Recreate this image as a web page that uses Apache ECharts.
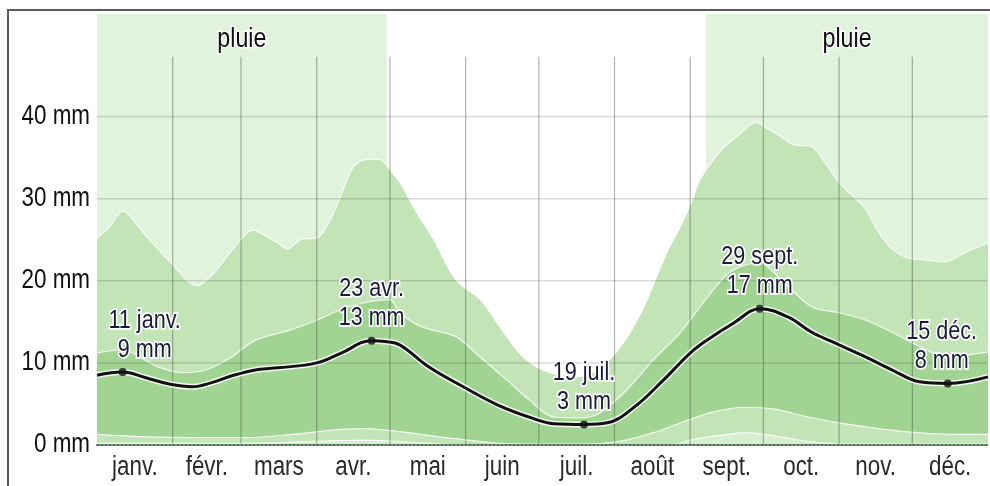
<!DOCTYPE html>
<html>
<head>
<meta charset="utf-8">
<script src="https://cdn.jsdelivr.net/npm/echarts@6/dist/echarts.min.js"></script>
<style>
  html, body { margin: 0; padding: 0; background: #fff; }
  #chart { width: 990px; height: 486px; }
</style>
</head>
<body>
<div id="chart"></div>
<script>
// Monthly rainfall: sliding 31-day accumulation, median with percentile bands.
const monthNames = ['janv.', 'févr.', 'mars', 'avr.', 'mai', 'juin', 'juil.', 'août', 'sept.', 'oct.', 'nov.', 'déc.'];
const monthLengths = [31, 28, 31, 30, 31, 30, 31, 31, 30, 31, 30, 31];
const yTicks = [0, 10, 20, 30, 40];

// Wet season spans (day of year)
const wetSeasons = [[0, 118.7], [249.5, 365]];
const wetLabel = 'pluie';

// 90th percentile
const p90Days = [0, 5, 10.5, 20, 30, 41, 48, 56, 64, 70, 74, 78, 84, 90, 97, 105, 111, 116, 120, 124, 131, 138, 147, 157, 165, 173, 180, 188, 196, 204, 211, 218, 224, 230, 234, 239, 244, 247, 256, 263, 270, 275, 280, 285, 293, 298, 304, 310, 315, 320, 326, 332, 337, 347, 356, 365];
const p90Values = [25.2, 26.5, 28.5, 25.5, 22.3, 19.4, 21, 24, 26.2, 25.3, 24.6, 23.9, 25.1, 25.2, 28.3, 33.9, 34.8, 34.8, 33.5, 32, 28.3, 25, 20.1, 17.7, 14.4, 11.2, 9.5, 8.6, 8.3, 9, 10.7, 13.5, 16.8, 21, 23.8, 26.6, 29.9, 32.3, 36, 37.8, 39.3, 38.5, 37.6, 36.6, 36.3, 34.5, 32, 30.2, 28.7, 26, 23.8, 22.8, 22.6, 22.3, 23.5, 24.6];

// 75th percentile
const p75Days = [0, 10.5, 20, 25, 35, 45, 55, 65, 79, 90, 100, 109, 120, 124, 133, 147, 157, 168, 177, 187, 198, 206, 217, 228, 239, 247, 259, 271, 283, 293, 304, 315, 326, 337, 348, 362, 365];
const p75Values = [11.2, 11.6, 10.3, 9.5, 8.8, 9.2, 10.7, 12.8, 14, 15.2, 16.5, 17.3, 17.7, 16.1, 14.4, 13.2, 10.7, 7.9, 5.5, 3.4, 3.3, 3.9, 6.7, 10.4, 13.7, 16.8, 21, 22.2, 19.3, 16.8, 16.1, 15.2, 13.7, 12, 10.7, 11.2, 11.3];

// Median
const medianDays = [0, 10.5, 20, 30, 39, 47, 56, 66, 74, 90, 100, 112.5, 118, 124, 136, 150, 164, 178, 187, 199.5, 209, 220, 232, 243, 250, 261, 271.5, 283, 293, 304, 315, 326, 337, 348.5, 365];
const medianValues = [8.5, 8.9, 8.2, 7.4, 7.1, 7.6, 8.5, 9.2, 9.4, 10, 11.2, 12.7, 12.6, 12.2, 9.5, 7.1, 4.9, 3.3, 2.6, 2.5, 2.7, 4.6, 7.9, 11.2, 12.8, 14.9, 16.6, 15.6, 13.7, 12.2, 10.7, 9.1, 7.7, 7.5, 8.3];

// 25th percentile
const p25Days = [0, 20, 40, 62, 80, 100, 110, 125, 140, 152, 165, 180, 200, 215, 228, 240, 252, 265, 277, 290, 304, 320, 336, 350, 365];
const p25Values = [1.3, 1.0, 0.9, 0.9, 1.3, 1.9, 2.0, 1.6, 1.0, 0.6, 0.2, 0.1, 0.1, 0.5, 1.5, 2.8, 4.0, 4.6, 4.4, 3.5, 2.7, 2.0, 1.5, 1.3, 1.3];

// 10th percentile
const p10Days = [0, 60, 95, 110, 130, 150, 236, 243, 256, 266, 280, 292, 305, 365];
const p10Values = [0.2, 0.2, 0.5, 0.6, 0.3, 0, 0, 0.6, 1.2, 1.5, 1.0, 0.4, 0.1, 0.1];

// Highlighted extremes of the median
const highlightDays = [10.5, 112.5, 199.5, 271.5, 348.5];
const highlightNames = ['11 janv.', '23 avr.', '19 juil.', '29 sept.', '15 déc.'];
const highlightValues = [8.9, 12.7, 2.5, 16.6, 7.5];

// ---- derived axis helpers ----
const monthStarts = [0];
monthLengths.forEach(l => monthStarts.push(monthStarts[monthStarts.length - 1] + l));
const monthMids = monthLengths.map((l, i) => monthStarts[i] + l / 2);

// ---- styling ----
const FONT = '"Liberation Sans", Arial, sans-serif';
const NARROW = 0.83;                // horizontal squeeze for the condensed lettering
const COLORS = {
  wet: '#e1f3dc',
  outer: '#c2e4b7',
  inner: '#a1d493',
  lowest: '#d8eed0'
};
const GRID_LINE_TOP = 47.3;          // vertical month lines stop below the season labels
const labelNudge = { 0: 22, 4: -6 }; // keep edge annotations inside the plot

const toPairs = (days, vals) => days.map((d, i) => [d, vals[i]]);

// condensed text element anchored at (x, y)
function narrowText(x, y, text, opts) {
  return {
    type: 'text', x, y, scaleX: NARROW, scaleY: 1,
    style: Object.assign({
      text, x: 0, y: 0,
      fontFamily: FONT, fontSize: 27, fill: '#111'
    }, opts)
  };
}

function band(name, days, vals, color) {
  return {
    name, type: 'line', z: 2, silent: true,
    data: toPairs(days, vals),
    smooth: 0.3, symbol: 'none',
    lineStyle: { color: 'rgba(255,255,255,0.85)', width: 1.2 },
    areaStyle: { color, opacity: 1 }
  };
}

const chart = echarts.init(document.getElementById('chart'), null, { renderer: 'canvas' });

chart.setOption({
  animation: false,
  backgroundColor: '#fff',
  graphic: [
    { type: 'polyline', z: 10, shape: { points: [[8, 486], [8, 10], [990, 10]] }, style: { stroke: '#5a5a5a', lineWidth: 2, fill: null } }
  ],
  grid: { left: 97, right: 2, top: 14, bottom: 41 },
  xAxis: {
    type: 'value', min: 0, max: 365, z: 6,
    axisLine: { show: true, lineStyle: { color: '#4d7353', width: 2, type: 'dotted' } },
    axisTick: { show: false },
    splitLine: { show: false },
    axisLabel: { show: false }
  },
  yAxis: {
    type: 'value', min: 0, max: 52.5,
    axisLine: { show: false },
    axisTick: { show: false },
    splitLine: { show: false },
    axisLabel: { show: false }
  },
  series: [
    {
      name: 'saison', type: 'custom', z: 1, silent: true,
      data: wetSeasons,
      encode: { x: [0, 1] },
      renderItem(params, api) {
        const x0 = api.coord([api.value(0), 0])[0];
        const x1 = api.coord([api.value(1), 0])[0];
        const cs = params.coordSys;
        return {
          type: 'group',
          children: [
            { type: 'rect', shape: { x: x0, y: cs.y, width: x1 - x0, height: cs.height }, style: { fill: COLORS.wet } },
            narrowText((x0 + x1) / 2, cs.y + 25, wetLabel, {
              align: 'center', verticalAlign: 'middle', fontSize: 28,
              stroke: '#fff', lineWidth: 3, strokeFirst: true
            })
          ]
        };
      }
    },
    band('p90', p90Days, p90Values, COLORS.outer),
    band('p75', p75Days, p75Values, COLORS.inner),
    band('p25', p25Days, p25Values, COLORS.outer),
    band('p10', p10Days, p10Values, COLORS.lowest),
    {
      name: 'grille-h', type: 'custom', z: 5, silent: true,
      data: yTicks.filter(v => v > 0).map(v => [0, v]),
      renderItem(params, api) {
        const a = api.coord([0, api.value(1)]);
        const b = api.coord([365, api.value(1)]);
        return { type: 'line', shape: { x1: a[0], y1: a[1], x2: b[0], y2: b[1] }, style: { stroke: 'rgba(60,70,60,0.2)', lineWidth: 1.5 } };
      }
    },
    {
      name: 'grille-v', type: 'custom', z: 5, silent: true,
      data: monthStarts.slice(1, 12).map(d => [d, 0]),
      renderItem(params, api) {
        const a = api.coord([api.value(0), GRID_LINE_TOP]);
        const b = api.coord([api.value(0), 0]);
        return { type: 'line', shape: { x1: a[0], y1: a[1], x2: b[0], y2: b[1] }, style: { stroke: 'rgba(50,60,50,0.38)', lineWidth: 1.2 } };
      }
    },
    {
      name: 'axe-y', type: 'custom', z: 6, silent: true,
      data: yTicks.map(v => [0, v]),
      renderItem(params, api) {
        const p = api.coord([0, api.value(1)]);
        return narrowText(p[0] - 7, p[1], api.value(1) + ' mm', { align: 'right', verticalAlign: 'middle', fill: '#111' });
      }
    },
    {
      name: 'axe-x', type: 'custom', z: 6, silent: true,
      data: monthMids.map((d, i) => [d, 0, i]),
      renderItem(params, api) {
        const p = api.coord([api.value(0), 0]);
        return narrowText(p[0], p[1] + 23, monthNames[api.value(2)], { align: 'center', verticalAlign: 'middle', fill: '#2a2a2a' });
      }
    },
    {
      name: 'halo', type: 'line', z: 6, silent: true,
      data: toPairs(medianDays, medianValues),
      smooth: 0.4, symbol: 'none',
      lineStyle: { color: 'rgba(255,255,255,0.85)', width: 6 }
    },
    {
      name: 'médiane', type: 'line', z: 7, silent: true,
      data: toPairs(medianDays, medianValues),
      smooth: 0.4, symbol: 'none',
      lineStyle: { color: '#111', width: 3 }
    },
    {
      name: 'extrêmes', type: 'scatter', z: 8, silent: true,
      symbol: 'circle', symbolSize: 8,
      itemStyle: { color: '#111' },
      data: toPairs(highlightDays, highlightValues)
    },
    {
      name: 'étiquettes', type: 'custom', z: 9, silent: true,
      data: highlightDays.map((d, i) => [d, highlightValues[i], i]),
      renderItem(params, api) {
        const i = api.value(2);
        const p = api.coord([api.value(0), api.value(1)]);
        const text = highlightNames[i] + '\n' + Math.round(api.value(1)) + ' mm';
        return narrowText(p[0] + (labelNudge[i] || 0), p[1] - 8, text, {
          align: 'center', verticalAlign: 'bottom', fontSize: 26, lineHeight: 29,
          fill: '#1a1a38', stroke: '#fff', lineWidth: 3.5, strokeFirst: true
        });
      }
    }
  ]
});
</script>
</body>
</html>
